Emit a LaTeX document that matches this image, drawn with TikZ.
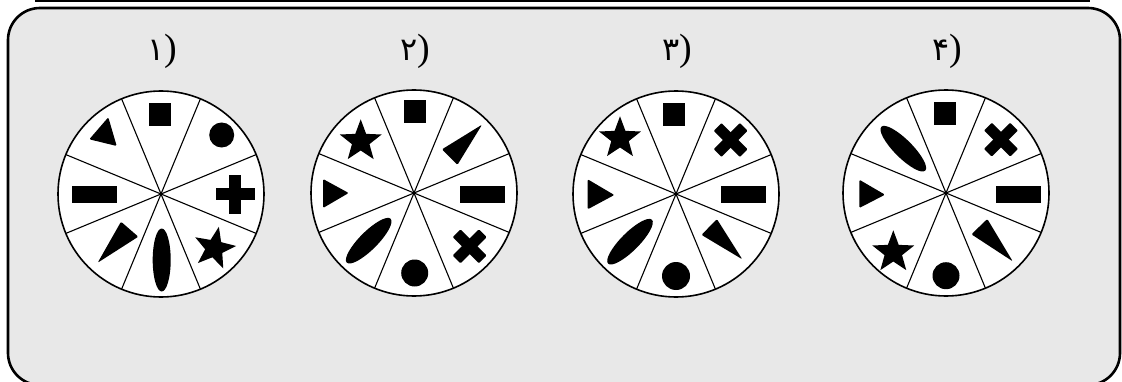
\documentclass[tikz,border=0pt]{standalone}
\usepackage{fontspec}
\setmainfont{Liberation Serif}
\newfontfamily\fadigits{DejaVu Sans}
\definecolor{panelgray}{HTML}{E8E8E8}
\newcommand{\bigparen}{{\fontsize{38}{40}\selectfont )}}
\begin{document}
\begin{tikzpicture}[x=1pt,y=1pt,
  panel/.style={draw=black, line width=2.6pt, fill=panelgray, rounded corners=32pt},
  topline/.style={draw=black, line width=2.6pt},
  disc/.style={draw=black, line width=1.6pt, fill=white},
  spoke/.style={draw=black, line width=1.1pt},
  glyph/.style={fill=black},
  wedgeglyph/.style={fill=black, rounded corners=1.2pt},
  lbl/.style={font=\fontsize{32}{36}\selectfont, anchor=base, inner sep=0pt},
  plusglyph/.pic={\fill[black] (-19.5,-6) rectangle (19.5,6); \fill[black] (-6,-19.5) rectangle (6,19.5);},
  crossglyph/.pic={\fill[black,rotate=45,rounded corners=1pt] (-18.5,-5.5) rectangle (18.5,5.5); \fill[black,rotate=45,rounded corners=1pt] (-5.5,-18.5) rectangle (5.5,18.5);},
  starglyph/.pic={\fill[black] (90:22)--(126:9.2)--(162:22)--(198:9.2)--(234:22)--(270:9.2)--(306:22)--(342:9.2)--(18:22)--(54:9.2)--cycle;},
  sqglyph/.pic={\fill[black] (-11,-11.5) rectangle (11,11.5);},
  barglyph/.pic={\fill[black] (-22.5,-8.5) rectangle (22.5,8.5);}
]
\useasboundingbox (0,0) rectangle (1122,381);
\fill[white] (0,0) rectangle (1122,381);
\draw[topline] (35,379.8) -- (1090,379.8);
\path[panel] (8,-4) rectangle (1120,373);

\coordinate (c1) at (161,187);
\coordinate (c2) at (414,188);
\coordinate (c3) at (676,187);
\coordinate (c4) at (946,188);

\node[lbl] (l1) at (162,320) {{\fadigits ۱}\bigparen};
\node[lbl] (l2) at (415,320) {{\fadigits ۲}\bigparen};
\node[lbl] (l3) at (677,320) {{\fadigits ۳}\bigparen};
\node[lbl] (l4) at (947,320) {{\fadigits ۴}\bigparen};

% circle 1
\begin{scope}[shift={(c1)}]
  \path[disc] (0,0) circle (103);
  \foreach \a in {22.5,67.5,...,337.5} \draw[spoke] (0,0) -- (\a:103);
  \pic at (-0.7,79.3) {sqglyph};
  \fill[glyph] (60.7,59) circle (12.5);
  \pic at (74.3,-0.3) {plusglyph};
  \pic[rotate=-12] at (53.3,-54.3) {starglyph};
  \fill[glyph] (0.7,-66) ellipse (9 and 31.5);
  \fill[wedgeglyph] (-40,-27.7) -- (-22.7,-42.7) -- (-63.3,-68.7) -- cycle;
  \pic at (-66.7,-0.3) {barglyph};
  \fill[wedgeglyph] (-71.7,54.7) -- (-52.7,76.7) -- (-44.3,48) -- cycle;
\end{scope}

% circle 2
\begin{scope}[shift={(c2)}]
  \path[disc] (0,0) circle (103);
  \foreach \a in {22.5,67.5,...,337.5} \draw[spoke] (0,0) -- (\a:103);
  \pic at (1.3,81.3) {sqglyph};
  \fill[wedgeglyph] (27.9,43.6) -- (43.4,28.1) -- (68,68.3) -- cycle;
  \pic at (68,-1) {barglyph};
  \pic at (55.7,-53.3) {crossglyph};
  \fill[glyph] (0.7,-80) circle (13.5);
  \fill[glyph, rotate around={45:(-45.3,-47.7)}] (-45.3,-47.7) ellipse (31 and 9);
  \fill[wedgeglyph] (-91,14) -- (-91,-15) -- (-65.3,0) -- cycle;
  \pic at (-53.3,51.7) {starglyph};
\end{scope}

% circle 3
\begin{scope}[shift={(c3)}]
  \path[disc] (0,0) circle (103);
  \foreach \a in {22.5,67.5,...,337.5} \draw[spoke] (0,0) -- (\a:103);
  \pic at (-2,79.7) {sqglyph};
  \pic at (54.7,54) {crossglyph};
  \pic at (67.7,-0.3) {barglyph};
  \fill[wedgeglyph] (25.5,-40.9) -- (40.9,-25.1) -- (66.3,-65.3) -- cycle;
  \fill[glyph] (0,-82) circle (14);
  \fill[glyph, rotate around={45:(-46,-47.7)}] (-46,-47.7) ellipse (31 and 9);
  \fill[wedgeglyph] (-88.3,14.7) -- (-88.3,-15.3) -- (-61.7,-1) -- cycle;
  \pic at (-56,55.7) {starglyph};
\end{scope}

% circle 4
\begin{scope}[shift={(c4)}]
  \path[disc] (0,0) circle (103);
  \foreach \a in {22.5,67.5,...,337.5} \draw[spoke] (0,0) -- (\a:103);
  \pic at (-1,79) {sqglyph};
  \pic at (55,53.3) {crossglyph};
  \pic at (72.7,-1) {barglyph};
  \fill[wedgeglyph] (25.4,-41.3) -- (41.3,-26) -- (66.7,-68.3) -- cycle;
  \fill[glyph] (0,-82.7) circle (13.5);
  \pic at (-52.7,-59.3) {starglyph};
  \fill[wedgeglyph] (-86.7,13.3) -- (-86.7,-15) -- (-61,-1.7) -- cycle;
  \fill[glyph, rotate around={-45:(-42.7,44.3)}] (-42.7,44.3) ellipse (31 and 9);
\end{scope}
\end{tikzpicture}
\end{document}
